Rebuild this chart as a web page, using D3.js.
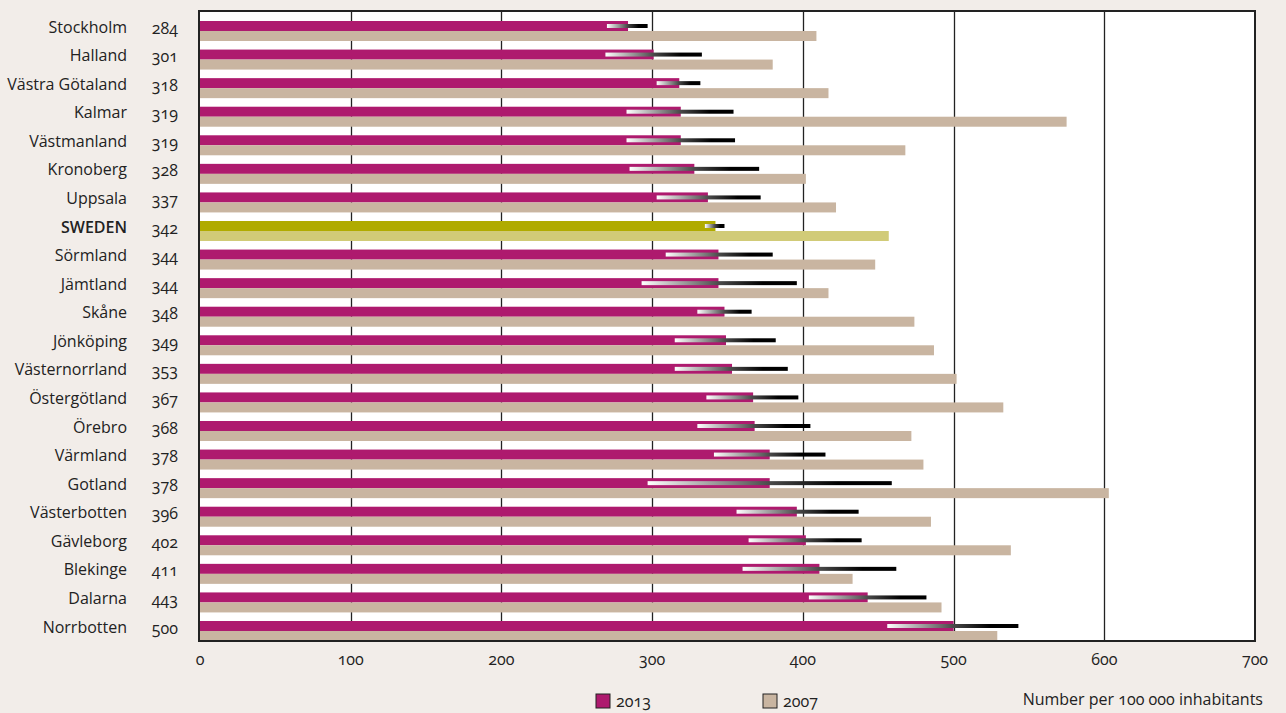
<!DOCTYPE html>
<html>
<head>
    <title>Number per 100 000 inhabitants</title>
    <script src="https://d3js.org/d3.v7.min.js"></script>
    <style>
        body {
            margin: 0;
            background-color: #f2ede9;
        }
        text {
            font-family: "Open Sans", "Noto Sans", sans-serif;
            font-size: 16px;
            fill: #222;
            font-variant-numeric: oldstyle-nums;
        }
    </style>
</head>
<body>
    <svg id="chart" width="1286" height="713"></svg>
    <script>
        // regions, sorted by 2013 value
        var regions = ["Stockholm", "Halland", "Västra Götaland", "Kalmar", "Västmanland", "Kronoberg",
            "Uppsala", "SWEDEN", "Sörmland", "Jämtland", "Skåne", "Jönköping", "Västernorrland",
            "Östergötland", "Örebro", "Värmland", "Gotland", "Västerbotten", "Gävleborg", "Blekinge",
            "Dalarna", "Norrbotten"];
        var values2013 = [284, 301, 318, 319, 319, 328, 337, 342, 344, 344, 348, 349, 353, 367, 368, 378, 378, 396, 402, 411, 443, 500];
        var values2007 = [409, 380, 417, 575, 468, 402, 422, 457, 448, 417, 474, 487, 502, 533, 472, 480, 603, 485, 538, 433, 492, 529];
        // confidence interval for 2013
        var ciLow = [270, 269, 303, 283, 283, 285, 303, 335, 309, 293, 330, 315, 315, 336, 330, 341, 297, 356, 364, 360, 404, 456];
        var ciHigh = [297, 333, 332, 354, 355, 371, 372, 348, 380, 396, 366, 382, 390, 397, 405, 415, 459, 437, 439, 462, 482, 543];
        var xTicks = [0, 100, 200, 300, 400, 500, 600, 700];

        var data = regions.map(function(r, i) {
            return { name: r, v13: values2013[i], v07: values2007[i], lo: ciLow[i], hi: ciHigh[i] };
        });

        var svg = d3.select("#chart");
        var plotLeft = 200, plotRight = 1255, plotTop = 11, plotBottom = 641;

        var x = d3.scaleLinear().domain([0, 700]).range([plotLeft, plotRight]);
        var y = d3.scaleBand().domain(regions).range([plotTop, plotBottom])
            .paddingInner(0.3).paddingOuter(0.175).align(1);
        var half = y.bandwidth() / 2;

        // plot background
        svg.append("rect")
            .attr("x", plotLeft).attr("y", plotTop)
            .attr("width", plotRight - plotLeft).attr("height", plotBottom - plotTop)
            .attr("fill", "#fff");

        // gridlines
        svg.append("g").selectAll("line")
            .data(xTicks.slice(1, -1))
            .enter().append("line")
            .attr("x1", d => Math.round(x(d)) + 0.5).attr("x2", d => Math.round(x(d)) + 0.5)
            .attr("y1", plotTop).attr("y2", plotBottom)
            .attr("stroke", "#222").attr("stroke-width", 1.3);

        var defs = svg.append("defs");
        var grad = defs.append("linearGradient").attr("id", "ci");
        grad.append("stop").attr("offset", "0%").attr("stop-color", "#fff");
        grad.append("stop").attr("offset", "50%").attr("stop-color", "#4a4a4a");
        grad.append("stop").attr("offset", "78%").attr("stop-color", "#000");
        grad.append("stop").attr("offset", "100%").attr("stop-color", "#000");

        var rows = svg.append("g").selectAll("g")
            .data(data)
            .enter().append("g");

        rows.append("rect")
            .attr("x", x(0))
            .attr("y", d => y(d.name))
            .attr("width", d => x(d.v13) - x(0))
            .attr("height", half)
            .attr("fill", d => d.name == "SWEDEN" ? "#b0ab00" : "#ae1a6e");

        rows.append("rect")
            .attr("x", x(0))
            .attr("y", d => y(d.name) + half)
            .attr("width", d => x(d.v07) - x(0))
            .attr("height", half)
            .attr("fill", d => d.name == "SWEDEN" ? "#d1cb78" : "#c9b5a1");

        rows.append("rect")
            .attr("x", d => x(d.lo))
            .attr("y", d => y(d.name) + half / 2 - 2)
            .attr("width", d => x(d.hi) - x(d.lo))
            .attr("height", 4)
            .attr("fill", "url(#ci)");

        // names and 2013 values
        rows.append("text")
            .attr("x", 127)
            .attr("y", d => y(d.name) + half - 4)
            .attr("dy", "0.35em")
            .attr("text-anchor", "end")
            .style("font-weight", d => d.name == "SWEDEN" ? "600" : null)
            .text(d => d.name);

        rows.append("text")
            .attr("x", 178)
            .attr("y", d => y(d.name) + half - 3)
            .attr("dy", "0.35em")
            .attr("text-anchor", "end")
            .text(d => d.v13);

        // frame
        svg.append("rect")
            .attr("x", plotLeft - 1).attr("y", plotTop)
            .attr("width", plotRight - plotLeft + 1).attr("height", plotBottom - plotTop)
            .attr("fill", "none")
            .attr("stroke", "#222").attr("stroke-width", 2);

        // x tick labels
        svg.append("g").selectAll("text")
            .data(xTicks)
            .enter().append("text")
            .attr("x", d => x(d))
            .attr("y", 659)
            .attr("dy", "0.35em")
            .attr("text-anchor", "middle")
            .text(d => d);

        // legend
        var legend = [["2013", "#ae1a6e", 596], ["2007", "#c9b5a1", 763]];
        var lg = svg.append("g").selectAll("g").data(legend).enter().append("g");
        lg.append("rect")
            .attr("x", d => d[2]).attr("y", 694)
            .attr("width", 14).attr("height", 14)
            .attr("fill", d => d[1])
            .attr("stroke", "#222").attr("stroke-width", 1);
        lg.append("text")
            .attr("x", d => d[2] + 20).attr("y", 701)
            .attr("dy", "0.35em")
            .text(d => d[0]);

        svg.append("text")
            .attr("x", 1263).attr("y", 699)
            .attr("dy", "0.35em")
            .attr("text-anchor", "end")
            .text("Number per 100 000 inhabitants");
    </script>
</body>
</html>
